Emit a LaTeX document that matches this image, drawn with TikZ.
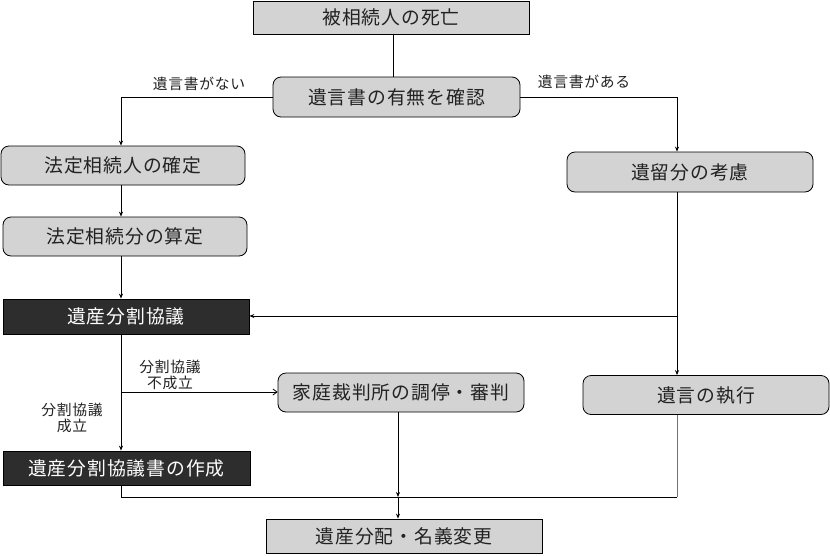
\documentclass[tikz,border=0pt]{standalone}
\usepackage{fontspec}
\setmainfont{Noto Sans CJK JP}
\newfontfamily\jpsp[LetterSpace=5]{Noto Sans CJK JP}
\usetikzlibrary{arrows.meta,calc}
\definecolor{boxgray}{RGB}{211,211,211}
\definecolor{boxdark}{RGB}{45,45,45}
\definecolor{txtdark}{RGB}{34,34,34}
\begin{document}
\begin{tikzpicture}[x=1pt,y=-1pt,
  base/.style={draw=black, line width=0.8pt, inner sep=0pt, text=txtdark,
    font=\jpsp\fontsize{18.8}{20}\selectfont},
  gbox/.style={base, fill=boxgray},
  rbox/.style={gbox, rounded corners=8pt},
  dbox/.style={base, fill=boxdark, text=white},
  conn/.style={line width=0.8pt, draw=black},
  arr/.style={conn, -{Stealth[length=5pt,width=4pt]}},
  openarr/.style={conn, -{Straight Barb[length=4pt,width=6pt]}},
  lbl/.style={font=\jpsp\fontsize{14.8}{15.5}\selectfont, text=txtdark, inner sep=0pt, align=center}
]
\useasboundingbox[fill=white] (0,0) rectangle (830,555);

\node[gbox, minimum width=276pt, minimum height=33pt] (b1) at (391,17.5) {被相続人の死亡};
\node[rbox, minimum width=247pt, minimum height=40pt] (b2) at (396.5,97) {遺言書の有無を確認};
\node[rbox, minimum width=244pt, minimum height=39pt] (b3) at (123,165.5) {法定相続人の確定};
\node[rbox, minimum width=246pt, minimum height=40pt] (b4) at (690,172) {遺留分の考慮};
\node[rbox, minimum width=244pt, minimum height=39pt] (b5) at (125,236.5) {法定相続分の算定};
\node[dbox, minimum width=246pt, minimum height=35pt] (b6) at (126,316.5) {遺産分割協議};
\node[rbox, minimum width=246pt, minimum height=39pt] (b7) at (401,392.5) {家庭裁判所の調停・審判};
\node[rbox, minimum width=246pt, minimum height=39pt] (b8) at (706,395) {遺言の執行};
\node[dbox, minimum width=247pt, minimum height=34pt] (b9) at (126.5,468) {遺産分割協議書の作成};
\node[gbox, minimum width=276pt, minimum height=34pt] (b10) at (404,536) {遺産分配・名義変更};

\coordinate (colT) at (393,0);
\coordinate (colL) at (121,0);
\coordinate (colR) at (677,0);
\coordinate (colM) at (398,0);
\coordinate (rowA) at (0,316);
\coordinate (rowB) at (0,392);
\coordinate (rowC) at (0,497);

\draw[conn] (colT |- b1.south) -- (colT |- b2.north);
\draw[arr] (b2.west) -- (colL |- b2.west) -- (colL |- b3.north);
\draw[arr] (b2.east) -- (colR |- b2.east) -- (colR |- b4.north);
\node[lbl] (lno) at (199,84) {遺言書がない};
\node[lbl] (lyes) at (584,82) {遺言書がある};
\draw[arr] (colL |- b3.south) -- (colL |- b5.north);
\draw[arr] (colL |- b5.south) -- (colL |- b6.north);
\draw[arr] (colR |- b4.south) -- (colR |- b8.north);
\draw[arr] (colR |- rowA) -- (b6.east |- rowA);
\draw[arr] (colL |- b6.south) -- (colL |- b9.north);
\draw[openarr] (colL |- rowB) -- (b7.west |- rowB);
\node[lbl] (lfail) at (170,375) {分割協議\\不成立};
\node[lbl] (lok) at (72,418) {分割協議\\成立};
\draw[conn] (colL |- b9.south) -- (colL |- rowC) -- (colR |- rowC);
\draw[line width=0.8pt, draw=black!55] (colR |- rowC) -- (colR |- b8.south);
\draw[arr] (colM |- b7.south) -- (colM |- rowC);
\draw[arr] (colM |- rowC) -- (colM |- b10.north);
\end{tikzpicture}
\end{document}
